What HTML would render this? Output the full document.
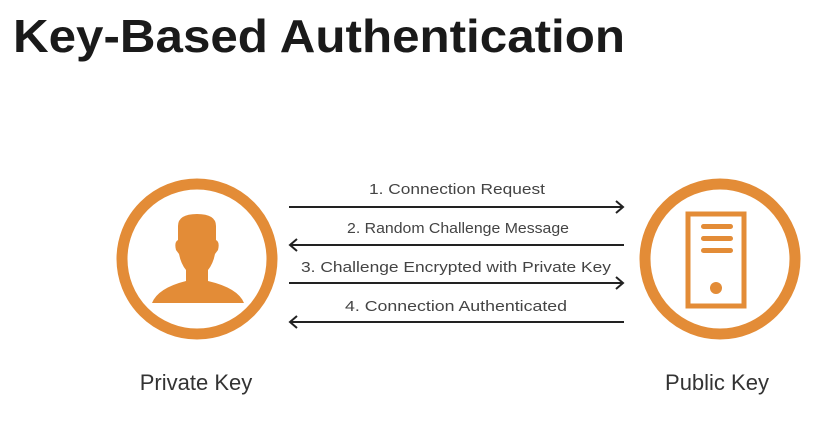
<!DOCTYPE html>
<html><head><style>
html,body{margin:0;padding:0;background:#fff;}
body{width:823px;height:433px;overflow:hidden;position:relative;font-family:"Liberation Sans",sans-serif;}
</style></head><body>
<svg width="823" height="433" xmlns="http://www.w3.org/2000/svg" style="position:absolute;left:0;top:0">
<text x="13" y="52" font-family="Liberation Sans, sans-serif" font-weight="bold" font-size="46" fill="#1a1a1a" textLength="612" lengthAdjust="spacingAndGlyphs">Key-Based Authentication</text>
<g fill="none" stroke="#e38c37" stroke-width="11">
<circle cx="197" cy="259" r="75"/>
<circle cx="720" cy="259" r="75"/>
</g>
<g fill="#e38c37">
<path d="M178 226 Q178 214 197 214 Q216 214 216 226 L216 240 Q220 242 218 250 L215 254 Q213 264 208 270 L208 281 Q238 288 244 303 L152 303 Q158 288 186 281 L186 270 Q181 264 179 254 L176 250 Q174 242 178 240 Z"/>
<rect x="701" y="224" width="32" height="5" rx="2.5"/>
<rect x="701" y="236" width="32" height="5" rx="2.5"/>
<rect x="701" y="248" width="32" height="5" rx="2.5"/>
<circle cx="716" cy="288" r="6"/>
</g>
<rect x="688" y="214" width="56" height="92" fill="none" stroke="#e38c37" stroke-width="5"/>
<g stroke="#222" stroke-width="2" fill="none">
<line x1="289" y1="207" x2="623" y2="207"/><polyline points="616,201 623,207 616,213"/>
<line x1="290" y1="245" x2="624" y2="245"/><polyline points="297,239 290,245 297,251"/>
<line x1="289" y1="283" x2="623" y2="283"/><polyline points="616,277 623,283 616,289"/>
<line x1="290" y1="322" x2="624" y2="322"/><polyline points="297,316 290,322 297,328"/>
</g>
<g font-family="Liberation Sans, sans-serif" font-size="15" fill="#444" text-anchor="middle">
<text x="457" y="194" textLength="176" lengthAdjust="spacingAndGlyphs">1. Connection Request</text>
<text x="458" y="233" textLength="222" lengthAdjust="spacingAndGlyphs">2. Random Challenge Message</text>
<text x="456" y="272" textLength="310" lengthAdjust="spacingAndGlyphs">3. Challenge Encrypted with Private Key</text>
<text x="456" y="311" textLength="222" lengthAdjust="spacingAndGlyphs">4. Connection Authenticated</text>
</g>
<g font-family="Liberation Sans, sans-serif" font-size="22" fill="#333" text-anchor="middle">
<text x="196" y="390">Private Key</text>
<text x="717" y="390">Public Key</text>
</g>
</svg>
</body></html>
